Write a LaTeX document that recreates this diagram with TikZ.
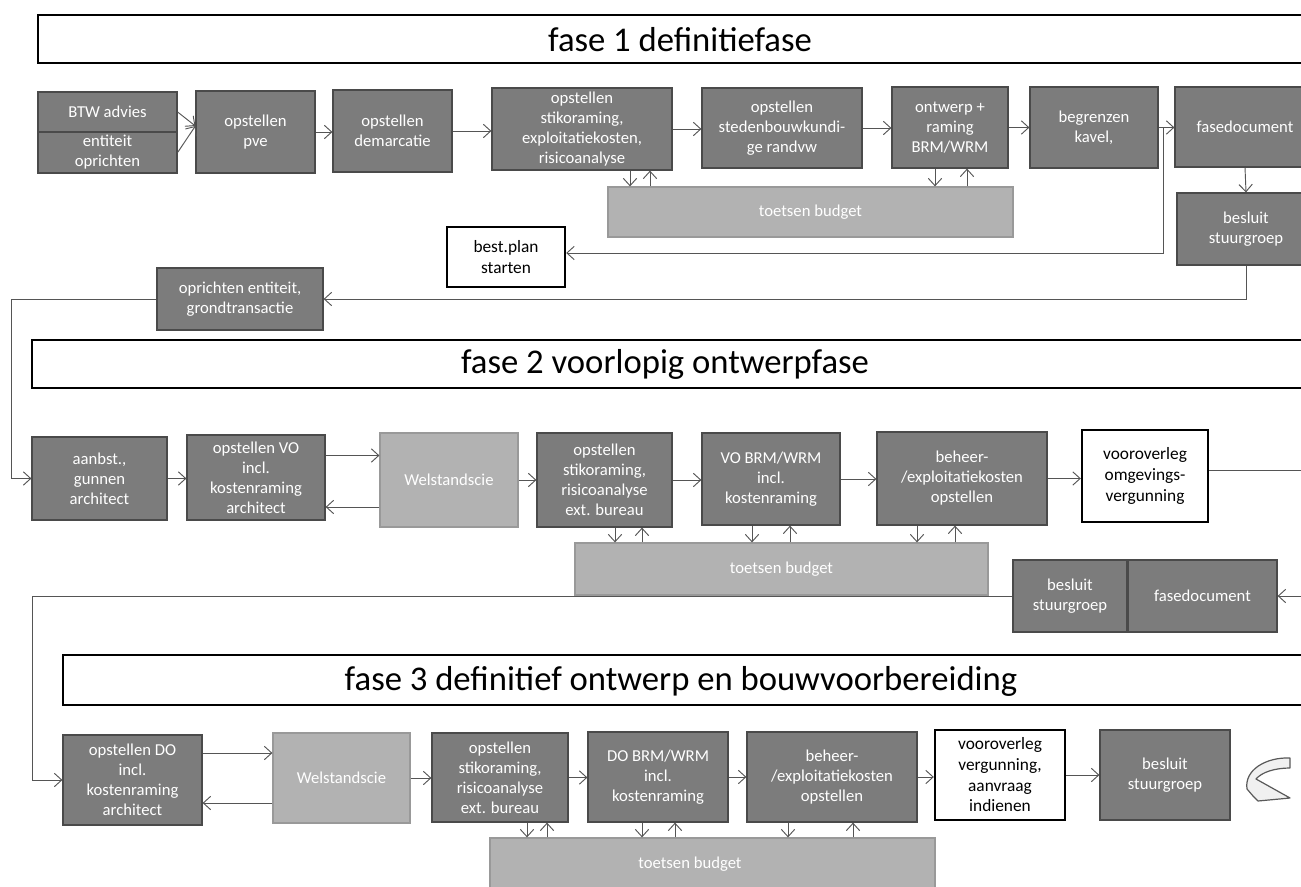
\documentclass[tikz,border=0pt]{standalone}
\usepackage{fontspec}
\setmainfont{Carlito}
\usetikzlibrary{arrows.meta,calc}
\newlength\pxl \setlength\pxl{0.75pt}
\definecolor{boxfill}{HTML}{7C7C7C}
\definecolor{boxline}{HTML}{4A4A4A}
\definecolor{litefill}{HTML}{B2B2B2}
\definecolor{liteline}{HTML}{999999}
\definecolor{wirecol}{HTML}{555555}
\tikzset{
  sz/.style 2 args={minimum width=#1\pxl, minimum height=#2\pxl},
  darkbox/.style={draw=boxline, line width=0.9pt, fill=boxfill, text=white,
    align=center, inner sep=0pt, font=\fontsize{12.5}{15}\selectfont},
  litebox/.style={darkbox, draw=liteline, fill=litefill},
  whitebox/.style={darkbox, draw=black, line width=1.8pt, fill=white, text=black,
    font=\fontsize{13}{15.5}\selectfont},
  banner/.style={draw=black, line width=1.4pt, fill=white},
  bannertext/.style={font=\fontsize{26}{30}\selectfont, text=black, inner sep=0pt},
  wire/.style={draw=wirecol, line width=0.7pt},
  arr/.style={wire, -{Straight Barb[length=5.5pt,width=10pt,line width=0.7pt]}},
  icon/.style={draw=gray!70!black, fill=gray!12, line width=0.9pt, line join=round}
}
\begin{document}
\begin{tikzpicture}[x=0.75pt,y=-0.75pt]
\clip (0,0) rectangle (1301,887);
\fill[white] (0,0) rectangle (1301,887);

% ---------- phase banners ----------
\draw[banner] (38,15) rectangle (1320,63);
\node[bannertext] (ban1) at (680,40) {fase 1 definitiefase};
\draw[banner] (32,340) rectangle (1320,388);
\node[bannertext] (ban2) at (665,364) {fase 2 voorlopig ontwerpfase};
\draw[banner] (63,655) rectangle (1320,705);
\node[bannertext] (ban3) at (681,681) {fase 3 definitief ontwerp en bouwvoorbereiding};

% ---------- phase 1 ----------
\node[darkbox, sz={139}{40}] (btwA) at (107.5,112) {BTW advies};
\node[darkbox, sz={139}{41}] (btwB) at (107.5,152.5) {entiteit\\oprichten};
\node[darkbox, sz={119}{82}] (pve) at (255.5,132) {opstellen\\pve};
\node[darkbox, sz={119}{82}] (dem) at (392.5,131) {opstellen\\demarcatie};
\node[darkbox, sz={180}{82}] (stk1) at (582,129) {opstellen\\stikoraming,\\exploitatiekosten,\\risicoanalyse};
\node[darkbox, sz={160}{80}] (sted) at (782,128) {opstellen\\stedenbouwkundi-\\ge randvw};
\node[darkbox, sz={116}{81}] (ontw) at (950,127.5) {ontwerp +\\raming\\BRM/WRM};
\node[darkbox, sz={128}{81}] (begr) at (1094,127.5) {begrenzen\\kavel,};
\node[darkbox, sz={140}{80}] (fd1) at (1245,127) {fasedocument};
\node[darkbox, sz={138}{72}] (bes1) at (1246,229) {besluit\\stuurgroep};
\node[litebox, sz={405}{50}] (tb1) at (810.5,212) {toetsen budget};
\node[whitebox, sz={118}{60}] (best) at (506,257) {best.plan\\starten};
\node[darkbox, sz={166}{62}] (opr) at (240,299) {oprichten entiteit,\\grondtransactie};

\coordinate (pveIn) at ($(pve.west)+(0,-6)$);
\draw[arr] (btwA.east) -- (pveIn);
\draw[arr] (btwB.east) -- (pveIn);
\draw[arr] (pve.east) -- (pve.east -| dem.west);
\draw[arr] (dem.east) -- (dem.east -| stk1.west);
\draw[arr] (stk1.east) -- (stk1.east -| sted.west);
\draw[arr] (sted.east) -- (sted.east -| ontw.west);
\draw[arr] (ontw.east) -- (ontw.east -| begr.west);
\draw[arr] (begr.east) -- (begr.east -| fd1.west);
\draw[arr] (fd1.south) -- (bes1.north);
\coordinate (j1) at ($(begr.east)+(5,0)$);
\coordinate (bestIn) at ($(best.east)+(0,-4)$);
\draw[arr] (j1) |- (bestIn);
\draw[arr] (bes1.south) |- (opr.east);

% ---------- phase 2 ----------
\node[darkbox, sz={135}{83}] (aan) at (99.5,478.5) {aanbst.,\\gunnen\\architect};
\node[darkbox, sz={138}{85}] (vo) at (256,477.5) {opstellen VO\\incl.\\kostenraming\\architect};
\node[litebox, sz={138}{94}] (wel2) at (449,480) {Welstandscie};
\node[darkbox, sz={135}{94}] (stk2) at (604.5,480) {opstellen\\stikoraming,\\risicoanalyse\\ext. bureau};
\node[darkbox, sz={138}{92}] (vob) at (771,479) {VO BRM/WRM\\incl.\\kostenraming};
\node[darkbox, sz={170}{93}] (beh2) at (962,478.5) {beheer-\\/exploitatiekosten\\opstellen};
\node[whitebox, sz={126}{92}] (voo2) at (1145,476) {vooroverleg\\omgevings-\\vergunning};
\node[litebox, sz={413}{52}] (tb2) at (781.5,569) {toetsen budget};
\node[darkbox, sz={114}{72}] (bes2) at (1070,596) {besluit\\stuurgroep};
\node[darkbox, sz={149}{72}] (fd2) at (1202.5,596) {fasedocument};
\coordinate (out2) at (1310,470);
\coordinate (in2) at (1310,596);

\draw[arr] (opr.west) -- ++(-145,0) |- (aan.west);
\draw[arr] (aan.east) -- (aan.east -| vo.west);
\coordinate (voOut) at ($(vo.east)+(0,-22)$);
\coordinate (welBack2) at ($(wel2.west)+(0,27)$);
\draw[arr] (voOut) -- (voOut -| wel2.west);
\draw[arr] (welBack2) -- (welBack2 -| vo.east);
\draw[arr] (wel2.east) -- (wel2.east -| stk2.west);
\draw[arr] (stk2.east) -- (stk2.east -| vob.west);
\draw[arr] (vob.east) -- (vob.east -| beh2.west);
\draw[arr] (beh2.east) -- (beh2.east -| voo2.west);
\coordinate (vooOut) at ($(voo2.east)+(0,-6)$);
\draw[wire] (vooOut) -- (vooOut -| out2);
\draw[arr] (in2) -- (fd2.east);

% ---------- phase 3 ----------
\node[darkbox, sz={139}{90}] (do) at (132.5,780) {opstellen DO\\incl.\\kostenraming\\architect};
\node[litebox, sz={137}{90}] (wel3) at (341.5,778) {Welstandscie};
\node[darkbox, sz={136}{89}] (stk3) at (500,777.5) {opstellen\\stikoraming,\\risicoanalyse\\ext. bureau};
\node[darkbox, sz={140}{90}] (dob) at (658,777) {DO BRM/WRM\\incl.\\kostenraming};
\node[darkbox, sz={170}{90}] (beh3) at (832,777) {beheer-\\/exploitatiekosten\\opstellen};
\node[whitebox, sz={130}{90}] (voo3) at (1000,775) {vooroverleg\\vergunning,\\aanvraag\\indienen};
\node[darkbox, sz={130}{90}] (bes3) at (1165,775) {besluit\\stuurgroep};
\node[litebox, sz={445}{56}] (tb3) at (712.5,866) {};
\node[darkbox, draw=none, fill=none] (tb3t) at (690,864) {toetsen budget};

\draw[arr] (bes2.west) -- ++(-980,0) |- (do.west);
\coordinate (doOut) at ($(do.east)+(0,-27)$);
\coordinate (welBack3) at ($(wel3.west)+(0,25)$);
\draw[arr] (doOut) -- (doOut -| wel3.west);
\draw[arr] (welBack3) -- (welBack3 -| do.east);
\draw[arr] (wel3.east) -- (wel3.east -| stk3.west);
\draw[arr] (stk3.east) -- (stk3.east -| dob.west);
\draw[arr] (dob.east) -- (dob.east -| beh3.west);
\draw[arr] (beh3.east) -- (beh3.east -| voo3.west);
\draw[arr] (voo3.east) -- (voo3.east -| bes3.west);

% ---------- budget checks (down and up arrows) ----------
\foreach \b/\dd/\du/\t in {stk1/48/68/tb1, ontw/-15/17/tb1,
    stk2/10.5/37.5/tb2, vob/-19/19/tb2, beh2/-45/-7/tb2,
    stk3/27/47/tb3, dob/-16/17/tb3, beh3/-44/21/tb3}{
  \coordinate (dn) at ($(\b.south)+(\dd,0)$);
  \coordinate (up) at ($(\b.south)+(\du,0)$);
  \draw[arr] (dn) -- (dn |- \t.north);
  \draw[arr] (up |- \t.north) -- (up);
}

% ---------- curved return arrow ----------
\draw[icon] (1290,758) .. controls (1266,757) and (1244,770) .. (1247,789)
  -- (1253,796) -- (1258,801) -- (1290,798) -- (1256,779)
  .. controls (1262,772) and (1275,768) .. (1290,768) -- cycle;
\end{tikzpicture}
\end{document}
